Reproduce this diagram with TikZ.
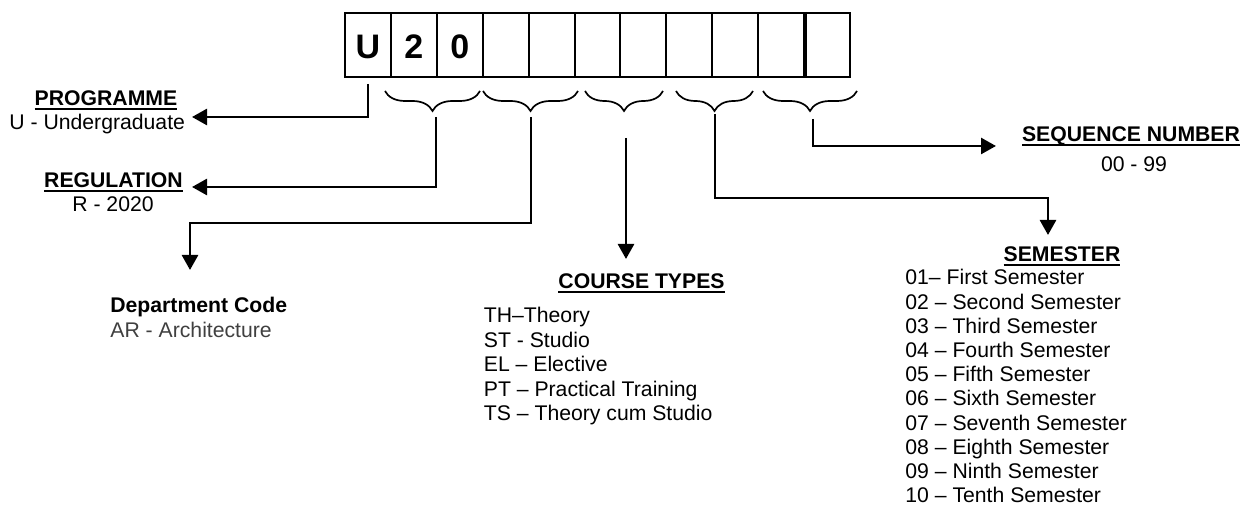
\documentclass[tikz,border=0pt]{standalone}
\usepackage{fontspec}
\setmainfont{Liberation Sans}
\usetikzlibrary{arrows.meta,decorations.pathreplacing}
\definecolor{arcol}{gray}{0.25}
\newcommand\myul[1]{\begingroup\setbox0\hbox{#1}\rlap{\vrule width\wd0 height -0.9pt depth 1.9pt}\box0\endgroup}
\tikzset{
 cellbox/.style={draw,line width=1pt,minimum width=22.955pt,minimum height=32pt,inner sep=0pt},
 digit/.style={font=\fontsize{17}{20}\selectfont\bfseries,inner sep=0pt,anchor=base},
 brc/.style={decorate,decoration={brace,amplitude=10pt},line width=0.85pt},
 conn/.style={line width=1.35pt,-{Triangle[length=7.5pt,width=8pt]}},
 ttl/.style={font=\fontsize{10.6}{12.5}\selectfont\bfseries,inner sep=0pt,anchor=base},
 txt/.style={font=\fontsize{10.6}{12.5}\selectfont,inner sep=0pt,anchor=base},
 itm/.style={font=\fontsize{10.6}{12.5}\selectfont,inner sep=0pt,anchor=base west},
}
\begin{document}
\begin{tikzpicture}[x=0.5pt,y=-0.5pt]
\useasboundingbox (0,0) rectangle (1244,506);
% code boxes
\foreach \i in {1,...,11}
  \node[cellbox] (c\i) at ({345+45.91*(\i-0.5)},45) {};
\draw[line width=1.7pt] (c10.north east) -- (c10.south east);
\node[digit] (d1) at (c1 |- 0,59) {U};
\node[digit] (d2) at (c2 |- 0,59) {2};
\node[digit] (d3) at (c3 |- 0,59) {0};
% braces
\draw[brc] (480,91) -- (385,91);
\draw[brc] (578,91) -- (483,91);
\draw[brc] (663,91) -- (585,91);
\draw[brc] (753,91) -- (676,91);
\draw[brc] (857,91) -- (763,91);
% connector anchors
\coordinate (t1) at (436,117);
\coordinate (t2) at (531,117);
\coordinate (t3) at (626,138);
\coordinate (t4) at (715,114);
\coordinate (t5) at (813,119);
\coordinate (pe) at (192,117);
\coordinate (re) at (192,187);
\coordinate (db) at (190,223);
\coordinate (de) at (190,270);
\coordinate (ce) at (626,259);
\coordinate (sb) at (1048,198);
\coordinate (se) at (1048,235);
\coordinate (qe) at (996,146);
% connectors
\draw[conn] ([yshift=-3pt]c1.south) |- (pe);
\draw[conn] (t1) |- (re);
\draw[conn] (t2) |- (db) -- (de);
\draw[conn] (t3) -- (ce);
\draw[conn] (t4) |- (sb) -- (se);
\draw[conn] (t5) |- (qe);
% texts
\node[ttl] (prog) at (106,106) {\myul{PROGRAMME}};
\node[itm] (progt) at (9,130) {U - Undergraduate};
\node[ttl] (reg) at (113.5,188) {\myul{REGULATION}};
\node[txt] (regt) at (113,212) {R - 2020};
\node[ttl,anchor=base west] (dept) at (110,313) {Department Code};
\node[itm,text=arcol] (deptt) at (110,338) {AR - Architecture};
\node[ttl] (ct) at (641.5,289) {\myul{COURSE TYPES}};
\foreach \t [count=\i from 0] in {TH–Theory,ST - Studio,EL – Elective,PT – Practical Training,TS – Theory cum Studio}
  \node[itm] (ct\i) at (483.5,{323+24.5*\i}) {\t};
\node[ttl] (sem) at (1062,262) {\myul{SEMESTER}};
\foreach \t [count=\i from 0] in {01– First Semester,02 – Second Semester,03 – Third Semester,04 – Fourth Semester,05 – Fifth Semester,06 – Sixth Semester,07 – Seventh Semester,08 – Eighth Semester,09 – Ninth Semester,10 – Tenth Semester}
  \node[itm] (sm\i) at (905,{285+24.2*\i}) {\t};
\node[ttl] (seq) at (1131,142) {\myul{SEQUENCE NUMBER}};
\node[txt] (seqt) at (1134,172) {00 - 99};
\end{tikzpicture}
\end{document}
